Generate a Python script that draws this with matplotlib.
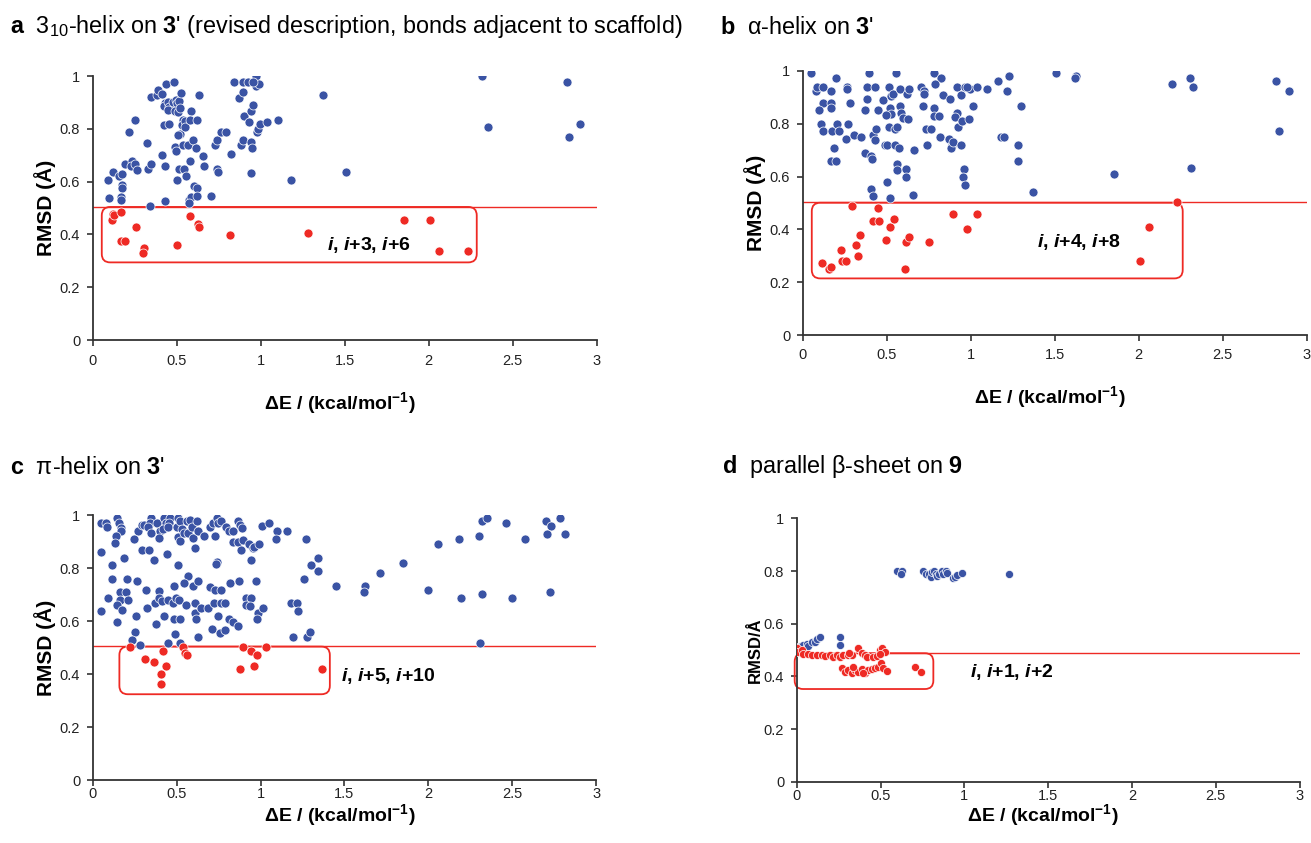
import numpy as np
import matplotlib
matplotlib.use('Agg')
import matplotlib.pyplot as plt
from matplotlib.patches import FancyBboxPatch

# Fonts: Helvetica-like text, bold italic "i" in the annotations
plt.rcParams['font.family'] = ['Liberation Sans', 'DejaVu Sans']
plt.rcParams['mathtext.fontset'] = 'custom'
plt.rcParams['mathtext.rm'] = 'Liberation Sans'
plt.rcParams['mathtext.it'] = 'Liberation Sans:italic:bold'
plt.rcParams['mathtext.bf'] = 'Liberation Sans:bold'

BLUE = '#3a53a4'
RED = '#ee2a24'

x_ticks = [0, 0.5, 1, 1.5, 2, 2.5, 3]
x_tick_labels = ['0', '0.5', '1', '1.5', '2', '2.5', '3']
y_ticks = [0, 0.2, 0.4, 0.6, 0.8, 1]
y_tick_labels = ['0', '0.2', '0.4', '0.6', '0.8', '1']

# ---- panel a: 3_10-helix on 3' ----
a_blue = np.array([
    (0.093, 0.605), (0.119, 0.637), (0.099, 0.538), (0.159, 0.620), (0.177, 0.627), (0.177, 0.586),
    (0.175, 0.576), (0.169, 0.542), (0.171, 0.530), (0.194, 0.666), (0.218, 0.786), (0.236, 0.677),
    (0.254, 0.835), (0.230, 0.658), (0.252, 0.668), (0.266, 0.643), (0.321, 0.747), (0.331, 0.646),
    (0.349, 0.667), (0.341, 0.508), (0.349, 0.921), (0.381, 0.928), (0.389, 0.946), (0.411, 0.932),
    (0.435, 0.968), (0.484, 0.976), (0.411, 0.700), (0.431, 0.899), (0.427, 0.885), (0.450, 0.903),
    (0.456, 0.883), (0.446, 0.870), (0.431, 0.658), (0.429, 0.526), (0.425, 0.816), (0.456, 0.818),
    (0.480, 0.902), (0.494, 0.908), (0.504, 0.899), (0.514, 0.904), (0.490, 0.868), (0.506, 0.864),
    (0.520, 0.879), (0.524, 0.937), (0.492, 0.731), (0.496, 0.716), (0.520, 0.782), (0.510, 0.776),
    (0.540, 0.832), (0.534, 0.813), (0.552, 0.828), (0.548, 0.807), (0.585, 0.866), (0.579, 0.832),
    (0.623, 0.832), (0.635, 0.928), (0.536, 0.738), (0.569, 0.738), (0.595, 0.757), (0.615, 0.729),
    (0.579, 0.677), (0.514, 0.646), (0.546, 0.646), (0.556, 0.620), (0.504, 0.605), (0.601, 0.582),
    (0.619, 0.576), (0.573, 0.530), (0.585, 0.540), (0.575, 0.520), (0.623, 0.547), (0.659, 0.697),
    (0.663, 0.658), (0.704, 0.547), (0.742, 0.646), (0.748, 0.637), (0.728, 0.740), (0.738, 0.757),
    (0.762, 0.786), (0.792, 0.786), (0.821, 0.706), (0.841, 0.976), (0.871, 0.918), (0.897, 0.938),
    (0.897, 0.977), (0.923, 0.977), (0.970, 1.000), (0.970, 0.963), (0.990, 0.968), (0.956, 0.977),
    (0.881, 0.738), (0.893, 0.757), (0.942, 0.751), (0.946, 0.728), (0.901, 0.849), (0.929, 0.825),
    (0.940, 0.868), (0.952, 0.889), (0.942, 0.631), (0.980, 0.788), (0.986, 0.801), (0.996, 0.817),
    (1.040, 0.825), (1.103, 0.835), (1.179, 0.605), (1.373, 0.928), (1.506, 0.637), (2.315, 1.000),
    (2.355, 0.808), (2.821, 0.978), (2.837, 0.769), (2.901, 0.818)])
a_red = np.array([
    (0.119, 0.477), (0.113, 0.454), (0.129, 0.473), (0.171, 0.486), (0.167, 0.375), (0.192, 0.375),
    (0.258, 0.429), (0.308, 0.349), (0.298, 0.328), (0.504, 0.358), (0.579, 0.468), (0.625, 0.438),
    (0.635, 0.429), (0.817, 0.397), (1.282, 0.406), (1.855, 0.453), (2.008, 0.453), (2.063, 0.336),
    (2.232, 0.336)])

# ---- panel b: alpha-helix on 3' ----
b_blue = np.array([
    (0.048, 0.990), (0.077, 0.923), (0.087, 0.940), (0.119, 0.940), (0.167, 0.923), (0.198, 0.971),
    (0.123, 0.877), (0.097, 0.851), (0.171, 0.877), (0.167, 0.860), (0.111, 0.798), (0.123, 0.772),
    (0.175, 0.772), (0.206, 0.798), (0.214, 0.772), (0.270, 0.798), (0.262, 0.940), (0.266, 0.929),
    (0.284, 0.877), (0.258, 0.741), (0.306, 0.757), (0.347, 0.748), (0.187, 0.709), (0.171, 0.660),
    (0.198, 0.660), (0.369, 0.688), (0.409, 0.679), (0.413, 0.668), (0.395, 0.990), (0.381, 0.940),
    (0.433, 0.940), (0.383, 0.892), (0.373, 0.851), (0.450, 0.851), (0.419, 0.756), (0.435, 0.780),
    (0.431, 0.738), (0.409, 0.552), (0.417, 0.528), (0.478, 0.889), (0.514, 0.940), (0.524, 0.904),
    (0.540, 0.911), (0.520, 0.860), (0.526, 0.836), (0.496, 0.832), (0.516, 0.788), (0.548, 0.780),
    (0.563, 0.788), (0.556, 0.990), (0.579, 0.932), (0.579, 0.868), (0.585, 0.839), (0.599, 0.820),
    (0.625, 0.819), (0.623, 0.912), (0.633, 0.932), (0.488, 0.719), (0.504, 0.718), (0.550, 0.718),
    (0.571, 0.709), (0.563, 0.647), (0.563, 0.625), (0.617, 0.630), (0.613, 0.599), (0.500, 0.581),
    (0.520, 0.520), (0.655, 0.529), (0.661, 0.700), (0.702, 0.940), (0.724, 0.923), (0.724, 0.911),
    (0.714, 0.868), (0.734, 0.780), (0.762, 0.780), (0.742, 0.718), (0.782, 0.990), (0.821, 0.971),
    (0.786, 0.948), (0.782, 0.860), (0.782, 0.829), (0.812, 0.829), (0.833, 0.909), (0.877, 0.892),
    (0.817, 0.748), (0.869, 0.741), (0.887, 0.718), (0.883, 0.708), (0.897, 0.729), (0.940, 0.718),
    (0.921, 0.839), (0.905, 0.824), (0.925, 0.788), (0.948, 0.811), (0.988, 0.819), (0.921, 0.940),
    (0.942, 0.909), (0.966, 0.940), (0.996, 0.932), (1.040, 0.940), (1.016, 0.868), (0.960, 0.630),
    (0.952, 0.599), (0.968, 0.568), (0.980, 0.940), (1.099, 0.932), (1.163, 0.962), (1.218, 0.923),
    (1.226, 0.980), (1.179, 0.748), (1.198, 0.748), (1.282, 0.718), (1.282, 0.660), (1.302, 0.868),
    (1.371, 0.542), (1.506, 0.990), (1.627, 0.981), (1.623, 0.971), (1.851, 0.608), (2.200, 0.950),
    (2.305, 0.971), (2.325, 0.940), (2.311, 0.631), (2.819, 0.962), (2.897, 0.923), (2.833, 0.772)])
b_red = np.array([
    (0.296, 0.490), (0.446, 0.481), (0.421, 0.432), (0.452, 0.432), (0.520, 0.411), (0.542, 0.441),
    (0.341, 0.379), (0.319, 0.340), (0.327, 0.301), (0.228, 0.322), (0.232, 0.282), (0.258, 0.282),
    (0.117, 0.273), (0.155, 0.251), (0.169, 0.259), (0.494, 0.361), (0.615, 0.353), (0.633, 0.370),
    (0.752, 0.353), (0.611, 0.251), (0.897, 0.458), (0.980, 0.402), (1.036, 0.458), (2.230, 0.503),
    (2.061, 0.411), (2.006, 0.282)])

# ---- panel c: pi-helix on 3' ----
c_blue = np.array([
    (0.048, 0.972), (0.079, 0.972), (0.087, 0.957), (0.143, 0.989), (0.159, 0.972), (0.169, 0.953),
    (0.171, 0.941), (0.272, 0.941), (0.292, 0.963), (0.306, 0.963), (0.347, 0.991), (0.341, 0.972),
    (0.329, 0.957), (0.345, 0.932), (0.385, 0.972), (0.401, 0.941), (0.395, 0.916), (0.425, 0.991),
    (0.435, 0.972), (0.421, 0.947), (0.460, 0.991), (0.456, 0.970), (0.446, 0.957), (0.510, 0.991),
    (0.500, 0.957), (0.520, 0.979), (0.530, 0.947), (0.510, 0.919), (0.520, 0.903), (0.544, 0.932),
    (0.560, 0.979), (0.579, 0.982), (0.569, 0.932), (0.593, 0.957), (0.595, 0.916), (0.623, 0.979),
    (0.629, 0.941), (0.665, 0.922), (0.698, 0.957), (0.714, 0.972), (0.738, 0.991), (0.744, 0.970),
    (0.762, 0.979), (0.728, 0.922), (0.792, 0.957), (0.810, 0.941), (0.837, 0.941), (0.865, 0.979),
    (0.877, 0.963), (0.891, 0.951), (0.833, 0.901), (0.863, 0.901), (0.897, 0.907), (0.885, 0.869),
    (0.933, 0.890), (0.956, 0.875), (0.962, 0.882), (0.990, 0.890), (1.006, 0.960), (1.050, 0.972),
    (1.097, 0.941), (1.095, 0.909), (1.155, 0.941), (1.270, 0.909), (0.607, 0.878), (0.292, 0.869),
    (0.335, 0.869), (0.440, 0.853), (0.365, 0.831), (0.246, 0.909), (0.139, 0.922), (0.131, 0.894),
    (0.052, 0.860), (0.113, 0.812), (0.188, 0.838), (0.738, 0.825), (0.734, 0.815), (0.510, 0.812),
    (0.942, 0.831), (1.343, 0.838), (1.300, 0.812), (1.343, 0.790), (1.258, 0.759), (1.452, 0.733),
    (0.113, 0.758), (0.202, 0.759), (0.262, 0.752), (0.569, 0.771), (0.546, 0.743), (0.599, 0.733),
    (0.629, 0.752), (0.698, 0.730), (0.728, 0.718), (0.762, 0.718), (0.817, 0.743), (0.871, 0.752),
    (0.972, 0.752), (0.484, 0.733), (0.393, 0.715), (0.315, 0.718), (0.165, 0.712), (0.198, 0.712),
    (0.091, 0.689), (0.163, 0.680), (0.212, 0.680), (0.143, 0.661), (0.173, 0.642), (0.050, 0.640),
    (0.147, 0.598), (0.256, 0.621), (0.325, 0.649), (0.371, 0.670), (0.395, 0.689), (0.411, 0.676),
    (0.450, 0.680), (0.476, 0.668), (0.494, 0.689), (0.514, 0.680), (0.556, 0.661), (0.609, 0.670),
    (0.609, 0.630), (0.615, 0.608), (0.645, 0.649), (0.685, 0.649), (0.722, 0.670), (0.766, 0.670),
    (0.790, 0.670), (0.744, 0.621), (0.813, 0.608), (0.837, 0.598), (0.865, 0.582), (0.913, 0.689),
    (0.946, 0.689), (0.911, 0.661), (0.940, 0.659), (0.982, 0.630), (1.012, 0.649), (0.976, 0.608),
    (1.179, 0.670), (1.218, 0.670), (1.222, 0.639), (0.427, 0.621), (0.379, 0.589), (0.484, 0.608),
    (0.520, 0.608), (0.712, 0.569), (0.758, 0.557), (0.790, 0.567), (1.194, 0.542), (1.274, 0.542),
    (1.294, 0.558), (0.629, 0.542), (0.490, 0.550), (0.518, 0.519), (0.446, 0.519), (0.282, 0.510),
    (0.254, 0.560), (0.232, 0.529), (1.625, 0.732), (1.619, 0.710), (1.714, 0.781), (1.847, 0.821),
    (2.056, 0.890), (2.185, 0.909), (2.300, 0.923), (2.317, 0.979), (2.349, 0.989), (2.464, 0.971),
    (2.573, 0.909), (2.702, 0.979), (2.732, 0.961), (2.782, 0.989), (2.704, 0.931), (2.816, 0.931),
    (2.000, 0.719), (2.196, 0.688), (2.321, 0.702), (2.500, 0.688), (2.722, 0.710), (2.308, 0.519)])
c_red = np.array([
    (0.224, 0.503), (0.313, 0.457), (0.365, 0.447), (0.421, 0.487), (0.437, 0.432), (0.405, 0.399),
    (0.405, 0.361), (0.540, 0.504), (0.552, 0.481), (0.560, 0.471), (0.893, 0.504), (0.946, 0.489),
    (0.980, 0.471), (1.032, 0.503), (0.962, 0.432), (0.877, 0.418), (1.367, 0.418)])

# ---- panel d: parallel beta-sheet on 9 ----
d_blue = np.array([
    (0.004, 0.513), (0.024, 0.516), (0.040, 0.519), (0.059, 0.523), (0.069, 0.515), (0.089, 0.532),
    (0.109, 0.532), (0.119, 0.541), (0.139, 0.551), (0.258, 0.551), (0.258, 0.519),
    (0.600, 0.800), (0.630, 0.800), (0.620, 0.789), (0.755, 0.800), (0.769, 0.789), (0.787, 0.789),
    (0.799, 0.778), (0.809, 0.797), (0.821, 0.800), (0.829, 0.789), (0.835, 0.781), (0.849, 0.789),
    (0.869, 0.800), (0.875, 0.789), (0.889, 0.800), (0.899, 0.794), (0.930, 0.772), (0.944, 0.776),
    (0.954, 0.785), (0.984, 0.791), (1.268, 0.789)])
d_red = np.array([
    (0.000, 0.507), (0.010, 0.494), (0.030, 0.500), (0.040, 0.485), (0.069, 0.485), (0.089, 0.481),
    (0.119, 0.481), (0.149, 0.481), (0.169, 0.477), (0.199, 0.481), (0.218, 0.475), (0.238, 0.481),
    (0.258, 0.475), (0.278, 0.481), (0.308, 0.481), (0.328, 0.481), (0.314, 0.490), (0.368, 0.507),
    (0.388, 0.487), (0.407, 0.481), (0.417, 0.475), (0.457, 0.475), (0.481, 0.477), (0.497, 0.500),
    (0.507, 0.507), (0.527, 0.494), (0.497, 0.485),
    (0.268, 0.430), (0.288, 0.418), (0.308, 0.424), (0.328, 0.414), (0.348, 0.424), (0.368, 0.418),
    (0.388, 0.427), (0.407, 0.414), (0.427, 0.424), (0.447, 0.427), (0.467, 0.430), (0.487, 0.437),
    (0.501, 0.449), (0.517, 0.430), (0.541, 0.422), (0.706, 0.434), (0.741, 0.418), (0.393, 0.414),
    (0.338, 0.434)])

fig = plt.figure(figsize=(13.11, 8.43), dpi=100)


def panel(rect, blue, red, cutoff, box, note, note_xy, ylabel, ylab_size, ylab_x,
          xlab_y, xpad, msize):
    ax = fig.add_axes(rect)
    ax.set_xlim(0, 3)
    ax.set_ylim(0, 1)
    ax.spines['top'].set_visible(False)
    ax.spines['right'].set_visible(False)
    for s in ('left', 'bottom'):
        ax.spines[s].set_color('#333333')
        ax.spines[s].set_linewidth(1.3)
    ax.set_xticks(x_ticks)
    ax.set_xticklabels(x_tick_labels)
    ax.set_yticks(y_ticks)
    ax.set_yticklabels(y_tick_labels)
    ax.tick_params(direction='out', length=4, width=1.2, color='#333333',
                   labelsize=10.5, labelcolor='#222222', pad=5)
    ax.tick_params(axis='x', pad=xpad)

    ax.axhline(cutoff, color=RED, lw=1.0, zorder=1)
    # rounded box in data units, aspect corrected so corners look round
    x0, x1, y0, y1 = box
    bb = FancyBboxPatch((x0, y0), x1 - x0, y1 - y0,
                        boxstyle='round,pad=0,rounding_size=0.05',
                        mutation_aspect=0.64, fc='none', ec=RED, lw=1.3,
                        clip_on=False, zorder=2)
    ax.add_patch(bb)

    ax.scatter(blue[:, 0], blue[:, 1], s=msize, c=BLUE, edgecolors='white',
               linewidths=0.5, zorder=3)
    ax.scatter(red[:, 0], red[:, 1], s=msize, c=RED, edgecolors='white',
               linewidths=0.5, zorder=3)

    ax.text(note_xy[0], note_xy[1], note, fontsize=14, fontweight='bold',
            ha='left', va='center')

    ax.set_ylabel(ylabel, fontsize=ylab_size, fontweight='bold')
    ax.yaxis.set_label_coords(ylab_x, 0.5)
    ax.yaxis.label.set_va('center')
    ax.set_xlabel(r'ΔE / (kcal/mol$^{\mathbf{-1}}$)', fontsize=14, fontweight='bold')
    ax.xaxis.set_label_coords(0.49, xlab_y)
    ax.xaxis.label.set_va('center')
    return ax


W, H = 1311.0, 843.0

panel([92.7 / W, 1 - 340 / H, 504 / W, 264 / H], a_blue, a_red, 0.505,
      (0.054, 2.286, 0.294, 0.504), r'$i$, $i$+3, $i$+6', (1.393, 0.36),
      'RMSD (Å)', 15, -0.095, -0.239, 6, 42)
panel([802.7 / W, 1 - 335.3 / H, 504 / W, 264.6 / H], b_blue, b_red, 0.505,
      (0.054, 2.262, 0.215, 0.501), r'$i$, $i$+4, $i$+8', (1.393, 0.354),
      'RMSD (Å)', 15, -0.095, -0.234, 5, 42)
panel([92.7 / W, 1 - 780 / H, 503.5 / W, 264.7 / H], c_blue, c_red, 0.505,
      (0.159, 1.413, 0.324, 0.504), r'$i$, $i$+5, $i$+10', (1.482, 0.393),
      'RMSD (Å)', 15, -0.095, -0.132, 1, 42)
panel([796.7 / W, 1 - 781.7 / H, 503 / W, 263.3 / H], d_blue, d_red, 0.488,
      (-0.012, 0.815, 0.352, 0.488), r'$i$, $i$+1, $i$+2', (1.033, 0.418),
      'RMSD/Å', 12, -0.082, -0.127, 1, 34)

# panel titles
fig.text(10 / W, 1 - 27 / H,
         r"$\mathbf{a}$  3$_{10}$-helix on $\mathbf{3}$' (revised description, bonds adjacent to scaffold)",
         fontsize=16.8, va='center')
fig.text(720 / W, 1 - 27 / H, r"$\mathbf{b}$  α-helix on $\mathbf{3}$'", fontsize=16.8, va='center')
fig.text(10 / W, 1 - 467 / H, r"$\mathbf{c}$  π-helix on $\mathbf{3}$'", fontsize=16.8, va='center')
fig.text(722 / W, 1 - 467 / H, r"$\mathbf{d}$  parallel β-sheet on $\mathbf{9}$", fontsize=16.8, va='center')

fig.savefig('out.png', dpi=100)
